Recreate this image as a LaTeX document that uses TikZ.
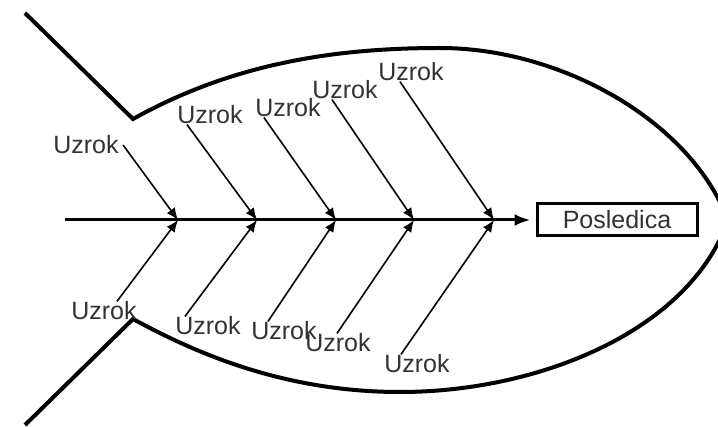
\documentclass[tikz,border=0pt]{standalone}
\usepackage{fontspec}
\setmainfont{Liberation Sans}
\usepackage{tikz}
\usetikzlibrary{arrows.meta,positioning}
\definecolor{textgray}{RGB}{50,50,50}

\begin{document}
\begin{tikzpicture}[
    x=0.5pt, y=-0.5pt,
    cause/.style={inner sep=0pt, font=\fontsize{12.5}{14}\selectfont, text=textgray},
    effectbox/.style={draw, line width=1.5pt, minimum width=80pt, minimum height=16pt, inner sep=2pt, font=\fontsize{12.5}{14}\selectfont, text=textgray},
    outline/.style={line width=2pt},
    arr/.style={-{Latex[length=8pt,width=6pt]}, line width=1.5pt},
    causearr/.style={-{Latex[length=6pt,width=5pt]}, line width=0.8pt}
]
\clip (0,0) rectangle (718,427);

% fish body
\draw[outline] (25,13) -- (133,119) .. controls (230,65) and (330,48) .. (440,48) .. controls (560,48) and (690,120) .. (728,220) .. controls (690,330) and (540,392) .. (400,392) .. controls (280,392) and (190,350) .. (133,319) -- (25,425);

% spine
\coordinate (tail) at (65,220);
\node[effectbox] (effect) at (617,220) {Posledica};
\draw[arr, shorten >=2.5pt] (tail) -- (effect.west);

\coordinate (j1) at (178,220);
\coordinate (j2) at (257,220);
\coordinate (j3) at (336,220);
\coordinate (j4) at (414,220);
\coordinate (j5) at (494,220);

% causes above
\node[cause] (u1) at (86,145) {Uzrok};
\node[cause] (u2) at (210,115) {Uzrok};
\node[cause] (u3) at (288,108) {Uzrok};
\node[cause] (u4) at (345,90) {Uzrok};
\node[cause] (u5) at (411,72) {Uzrok};

% causes below
\node[cause] (l1) at (104,311) {Uzrok};
\node[cause] (l2) at (208,326) {Uzrok};
\node[cause] (l3) at (284,331) {Uzrok};
\node[cause] (l4) at (338,343) {Uzrok};
\node[cause] (l5) at (417,364) {Uzrok};

\draw[causearr] ([xshift=2pt]u1.east) -- (j1);
\draw[causearr] ([xshift=5pt]u2.south west) -- (j2);
\draw[causearr] ([xshift=4.5pt]u3.south west) -- (j3);
\draw[causearr] ([xshift=10pt]u4.south west) -- (j4);
\draw[causearr] ([xshift=11pt]u5.south west) -- (j5);

\draw[causearr] ([xshift=23pt]l1.north west) -- (j1);
\draw[causearr] ([xshift=5pt]l2.north west) -- (j2);
\draw[causearr] ([xshift=8.5pt]l3.north west) -- (j3);
\draw[causearr] ([xshift=16pt]l4.north west) -- (j4);
\draw[causearr] ([xshift=8.5pt]l5.north west) -- (j5);

\end{tikzpicture}
\end{document}
